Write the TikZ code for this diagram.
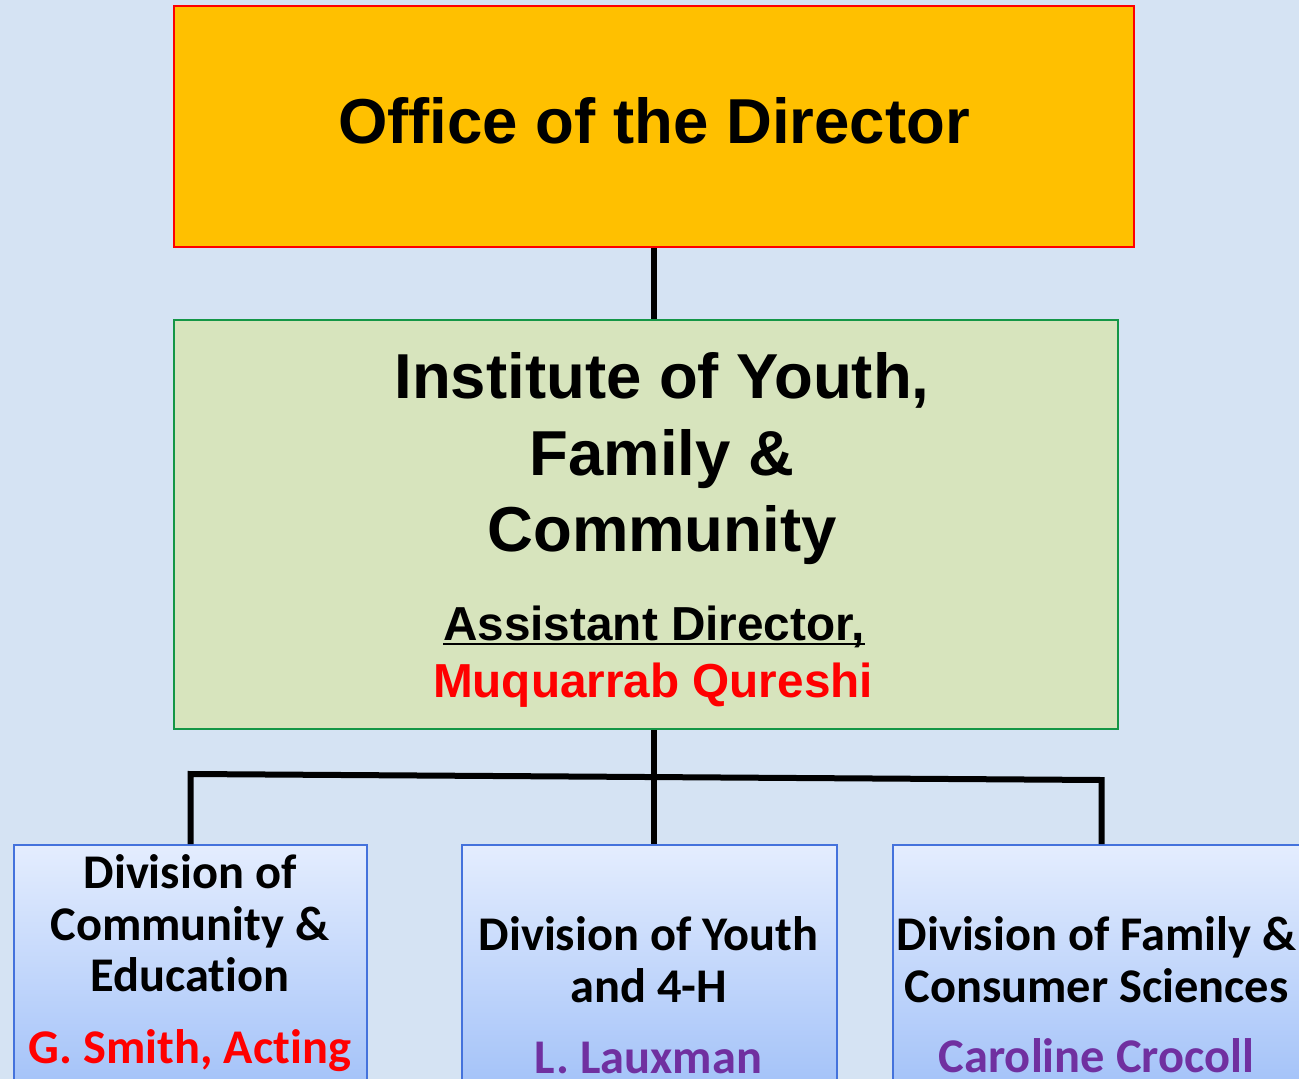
\documentclass[tikz,border=0pt]{standalone}
\usepackage{fontspec}
\setmainfont{Liberation Sans}
\newfontfamily\calfont[Ligatures=NoCommon]{Carlito}
\usetikzlibrary{calc}
\definecolor{bgblue}{RGB}{213,227,243}
\definecolor{officefill}{RGB}{255,192,0}
\definecolor{officeline}{RGB}{255,0,0}
\definecolor{instfill}{RGB}{215,228,189}
\definecolor{instline}{RGB}{20,150,70}
\definecolor{divline}{RGB}{68,114,220}
\definecolor{divtop}{RGB}{228,237,254}
\definecolor{divbot}{RGB}{160,192,248}
\definecolor{namered}{RGB}{255,0,0}
\definecolor{namepurple}{RGB}{112,48,160}
\tikzset{
  officebox/.style={draw=officeline, fill=officefill, line width=2, inner sep=0},
  instbox/.style={draw=instline, fill=instfill, line width=2, inner sep=0},
  divbox/.style={draw=divline, top color=divtop, bottom color=divbot, line width=2, inner sep=0, minimum height=255},
  conn/.style={line width=6, black, line join=miter},
  bigtxt/.style={inner sep=0, anchor=base, font=\fontsize{63.5}{76}\selectfont\bfseries},
  midtxt/.style={inner sep=0, anchor=base, font=\fontsize{47.7}{57}\selectfont\bfseries},
  divtxt/.style={inner sep=0, anchor=base, font=\calfont\fontsize{48.4}{52}\selectfont\bfseries},
}
\begin{document}
\begin{tikzpicture}[x=1pt,y=-1pt]
\useasboundingbox (0,0) rectangle (1299,1079);
\clip (0,0) rectangle (1299,1079);
\fill[bgblue] (0,0) rectangle (1299,1079);

% boxes
\node[officebox, minimum width=960, minimum height=241] (office) at (654,126.5) {};
\node[instbox, minimum width=944, minimum height=409] (inst) at (646,524.5) {};
\node[divbox, minimum width=353] (left) at (190.5,972.5) {};
\node[divbox, minimum width=375] (mid) at (649.5,972.5) {};
\node[divbox, minimum width=417] (right) at (1101.5,972.5) {};

% connectors
\coordinate (bl) at (190,774);
\coordinate (br) at (1102,780);
\draw[conn] (office.south) -- (office.south |- inst.north);
\draw[conn] (left.north) -- (left.north |- bl) -- (right.north |- br) -- (right.north);
\draw[conn] (office.south |- inst.south) -- (office.south |- mid.north);

% texts
\node[bigtxt] (t1) at (654,143) {Office of the Director};
\node[bigtxt] (t2) at (662,398) {Institute of Youth,};
\node[bigtxt] (t3) at (662,475) {Family \&};
\node[bigtxt] (t4) at (662,551) {Community};
\node[midtxt] (t5) at (654,640) {Assistant Director,};
\draw[line width=2] ($(t5.base west)+(0,4)$) -- ($(t5.base east)+(0,4)$);
\node[midtxt, text=namered] (t6) at (653,697) {Muquarrab Qureshi};

\node[divtxt] (l1) at (190,888) {Division of};
\node[divtxt] (l2) at (190,940) {Community \&};
\node[divtxt] (l3) at (190,991) {Education};
\node[divtxt, text=namered] (l4) at (190,1063) {G. Smith, Acting};

\node[divtxt] (m1) at (648.5,950) {Division of Youth};
\node[divtxt] (m2) at (648.5,1002) {and 4-H};
\node[divtxt, text=namepurple] (m3) at (648.5,1073) {L. Lauxman};

\node[divtxt] (r1) at (1096.5,950) {Division of Family \&};
\node[divtxt] (r2) at (1096.5,1002) {Consumer Sciences};
\node[divtxt, text=namepurple] (r3) at (1096.5,1072) {Caroline Crocoll};
\end{tikzpicture}
\end{document}
